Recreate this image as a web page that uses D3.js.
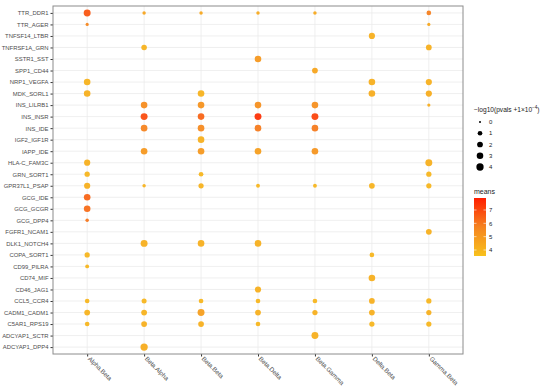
<!DOCTYPE html>
<html><head><meta charset="utf-8">
<script src="https://cdn.jsdelivr.net/npm/d3@7"></script>
<style>body{margin:0;background:#fff}svg{display:block;font-family:"Liberation Sans",Arial,sans-serif}</style>
</head><body>
<svg id="c" width="550" height="390"></svg>
<script>
const pairs = ["TTR_DDR1","TTR_AGER","TNFSF14_LTBR","TNFRSF1A_GRN","SSTR1_SST","SPP1_CD44","NRP1_VEGFA","MDK_SORL1","INS_LILRB1","INS_INSR","INS_IDE","IGF2_IGF1R","IAPP_IDE","HLA-C_FAM3C","GRN_SORT1","GPR37L1_PSAP","GCG_IDE","GCG_GCGR","GCG_DPP4","FGFR1_NCAM1","DLK1_NOTCH4","COPA_SORT1","CD99_PILRA","CD74_MIF","CD46_JAG1","CCL5_CCR4","CADM1_CADM1","C5AR1_RPS19","ADCYAP1_SCTR","ADCYAP1_DPP4"];
const clusters = ["Alpha.Beta","Beta.Alpha","Beta.Beta","Beta.Delta","Beta.Gamma","Delta.Beta","Gamma.Beta"];
const sizeTicks = [0,1,2,3,4];
const colorTicks = [4,5,6,7];
// [pair, -log10(p), mean]
const alphaBeta = [["TTR_DDR1",3.5,6.7],["TTR_AGER",0.2,5.6],["NRP1_VEGFA",3,4.1],["MDK_SORL1",3,4.2],["HLA-C_FAM3C",2.5,4.2],["GRN_SORT1",1.5,4.0],["GPR37L1_PSAP",2.5,4.2],["GCG_IDE",3,6.4],["GCG_GCGR",3,6.2],["GCG_DPP4",0.3,6.0],["COPA_SORT1",1.5,4.0],["CD99_PILRA",0.5,4.0],["CCL5_CCR4",1,4.0],["CADM1_CADM1",2,4.1],["C5AR1_RPS19",1,4.0]];
const betaAlpha = [["TTR_DDR1",0.3,4.6],["TNFRSF1A_GRN",1.8,4.1],["INS_LILRB1",3,5.4],["INS_INSR",3.5,6.9],["INS_IDE",3,5.7],["IAPP_IDE",3,5.0],["GPR37L1_PSAP",0.3,4.1],["DLK1_NOTCH4",3.5,4.2],["CCL5_CCR4",1.3,4.0],["CADM1_CADM1",2,4.1],["C5AR1_RPS19",2,4.2],["ADCYAP1_DPP4",4,4.3]];
const betaBeta = [["TTR_DDR1",0.3,4.5],["MDK_SORL1",3,4.1],["INS_LILRB1",3,5.2],["INS_INSR",3,6.4],["INS_IDE",3,5.5],["IGF2_IGF1R",3,4.2],["IAPP_IDE",3,5.0],["GRN_SORT1",1,4.0],["GPR37L1_PSAP",1.5,4.1],["DLK1_NOTCH4",3,4.2],["CCL5_CCR4",1,4.0],["CADM1_CADM1",3.5,4.8],["C5AR1_RPS19",2,4.2]];
const betaDelta = [["TTR_DDR1",0.3,4.4],["SSTR1_SST",3,5.0],["INS_LILRB1",3,5.3],["INS_INSR",3.5,7.5],["INS_IDE",3,5.9],["IAPP_IDE",3,4.8],["GPR37L1_PSAP",0.5,4.0],["DLK1_NOTCH4",3,4.2],["CD46_JAG1",2.5,4.2],["CCL5_CCR4",1,4.0],["CADM1_CADM1",2,4.2],["C5AR1_RPS19",1,4.0]];
const betaGamma = [["TTR_DDR1",0.3,4.4],["SPP1_CD44",2,4.6],["INS_LILRB1",3,5.3],["INS_INSR",3.5,7.1],["INS_IDE",3,5.9],["IAPP_IDE",3,5.1],["GPR37L1_PSAP",0.5,4.0],["CCL5_CCR4",1,4.0],["CADM1_CADM1",1.5,4.2],["ADCYAP1_SCTR",3.5,4.2]];
const deltaBeta = [["TNFSF14_LTBR",2.5,4.2],["NRP1_VEGFA",3,4.2],["MDK_SORL1",3,4.3],["GPR37L1_PSAP",2,4.1],["COPA_SORT1",1,4.0],["CD74_MIF",3,4.2],["CCL5_CCR4",2,4.2],["CADM1_CADM1",2,4.2],["C5AR1_RPS19",1.5,4.0]];
const gammaBeta = [["TTR_DDR1",1,5.8],["TTR_AGER",0.2,4.5],["TNFRSF1A_GRN",2,4.2],["NRP1_VEGFA",2.5,4.2],["MDK_SORL1",2.5,4.3],["INS_LILRB1",0.2,4.3],["HLA-C_FAM3C",3.5,4.2],["GRN_SORT1",1.5,4.0],["GPR37L1_PSAP",1.5,4.0],["FGFR1_NCAM1",2,4.2],["CCL5_CCR4",1.5,4.0],["CADM1_CADM1",1.5,4.2],["C5AR1_RPS19",1.5,4.0]];
const columns = [alphaBeta,betaAlpha,betaBeta,betaDelta,betaGamma,deltaBeta,gammaBeta];

const svg = d3.select("#c");
const L=53,R=463,T=6,B=354;
const FS = 5.9;
const x = d3.scalePoint().domain(clusters).range([L,R]).padding(0.6);
const y = d3.scalePoint().domain(pairs).range([T,B]).padding(0.6);
const cmin=3.55,cmax=7.9;
const color = d3.scaleLinear().domain([cmin,(cmin+cmax)/2,cmax]).range(["#F8C21C","#F58320","#FF1E00"]);
const rad = v => (2 + 5.3*Math.sqrt(Math.max(0,v)/4))/2;

// grid
svg.append("g").selectAll("line").data(pairs).join("line")
  .attr("x1",L).attr("x2",R).attr("y1",d=>y(d)).attr("y2",d=>y(d))
  .attr("stroke","#ebebeb").attr("stroke-width",0.8);
svg.append("g").selectAll("line").data(clusters).join("line")
  .attr("y1",T).attr("y2",B).attr("x1",d=>x(d)).attr("x2",d=>x(d))
  .attr("stroke","#ebebeb").attr("stroke-width",0.8);

// axes
const ya = svg.append("g").attr("transform",`translate(${L},0)`).call(d3.axisLeft(y).tickSize(2.5).tickPadding(2));
ya.select(".domain").remove();
ya.selectAll("text").attr("font-size",FS).attr("fill","#4d4d4d").attr("font-family","Liberation Sans,Arial,sans-serif");
ya.selectAll("line").attr("stroke","#333");
const xa = svg.append("g").attr("transform",`translate(0,${B})`).call(d3.axisBottom(x).tickSize(2.5).tickPadding(2));
xa.select(".domain").remove();
xa.selectAll("line").attr("stroke","#333");
xa.selectAll("text").attr("font-size",6.3).attr("fill","#4d4d4d").attr("font-family","Liberation Sans,Arial,sans-serif")
  .attr("text-anchor","start").attr("dy",0).attr("y",0)
  .attr("transform","translate(1,4) rotate(45)").attr("dominant-baseline","middle");

svg.append("rect").attr("x",L).attr("y",T).attr("width",R-L).attr("height",B-T)
  .attr("fill","none").attr("stroke","#8c8c8c").attr("stroke-width",1);

// dots
const pts=[];
columns.forEach((col,i)=>col.forEach(d=>pts.push({c:clusters[i],p:d[0],s:d[1],m:d[2]})));
svg.append("g").selectAll("circle").data(pts).join("circle")
  .attr("cx",d=>x(d.c)).attr("cy",d=>y(d.p)).attr("r",d=>rad(d.s))
  .attr("fill",d=>color(d.m)).attr("fill-opacity",0.95);

// size legend
const lg = svg.append("g");
const t = lg.append("text").attr("x",474).attr("y",112).attr("font-size",6.6).attr("fill","#1a1a1a");
t.append("tspan").text("\u2212log10(pvals +1\u00d710");
t.append("tspan").attr("dy",-3).attr("font-size",4.6).text("\u22124");
t.append("tspan").attr("dy",3).text(")");
const sy = d3.scalePoint().domain(sizeTicks).range([122,167]);
lg.selectAll("circle").data(sizeTicks).join("circle")
  .attr("cx",480).attr("cy",d=>sy(d)).attr("r",d=>rad(d)).attr("fill","#000");
lg.selectAll("text.s").data(sizeTicks).join("text").attr("class","s")
  .attr("x",489).attr("y",d=>sy(d)+2.2).attr("font-size",6).attr("fill","#1a1a1a").text(d=>d);

// color legend
lg.append("text").attr("x",474).attr("y",194).attr("font-size",7).attr("fill","#1a1a1a").text("means");
const cy = d3.scaleLinear().domain([cmin,cmax]).range([256,198]);
const defs = svg.append("defs");
const grad = defs.append("linearGradient").attr("id","g").attr("x1",0).attr("x2",0).attr("y1",1).attr("y2",0);
d3.range(0,1.0001,0.1).forEach(f=>grad.append("stop").attr("offset",f).attr("stop-color",color(cmin+f*(cmax-cmin))));
lg.append("rect").attr("x",474).attr("y",198).attr("width",12).attr("height",58).attr("fill","url(#g)");
lg.selectAll("line.ct").data(colorTicks).join("line").attr("class","ct")
  .attr("x1",474).attr("x2",476.5).attr("y1",d=>cy(d)).attr("y2",d=>cy(d)).attr("stroke","#fff").attr("stroke-width",0.6);
lg.selectAll("line.ct2").data(colorTicks).join("line").attr("class","ct2")
  .attr("x1",483.5).attr("x2",486).attr("y1",d=>cy(d)).attr("y2",d=>cy(d)).attr("stroke","#fff").attr("stroke-width",0.6);
lg.selectAll("text.c").data(colorTicks).join("text").attr("class","c")
  .attr("x",489).attr("y",d=>cy(d)+2.2).attr("font-size",6).attr("fill","#1a1a1a").text(d=>d);
</script>
</body></html>
